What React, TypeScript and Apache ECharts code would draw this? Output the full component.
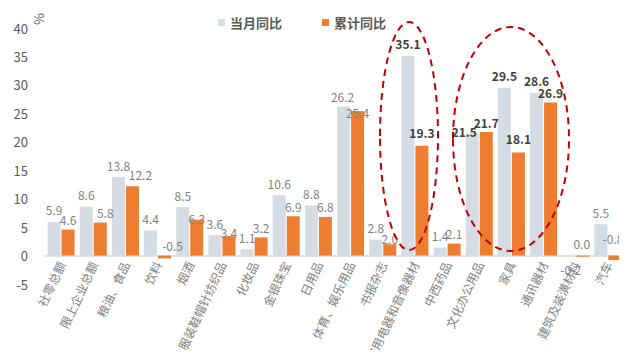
import React, { useEffect, useRef } from "react";
import * as echarts from "echarts";

const categories = [
  "社零总额", "限上企业总额", "粮油、食品", "饮料", "烟酒", "服装鞋帽针纺织品",
  "化妆品", "金银珠宝", "日用品", "体育、娱乐用品", "书报杂志", "家用电器和音像器材",
  "中西药品", "文化办公用品", "家具", "通讯器材", "建筑及装潢材料", "汽车",
];
const monthYoY = [5.9, 8.6, 13.8, 4.4, 8.5, 3.6, 1.1, 10.6, 8.8, 26.2, 2.8, 35.1, 1.4, 21.5, 29.5, 28.6, 0.0, 5.5];
const cumYoY = [4.6, 5.8, 12.2, -0.5, 6.3, 3.4, 3.2, 6.9, 6.8, 25.4, 2.0, 19.3, 2.1, 21.7, 18.1, 26.9, -0.2, -0.8];
const highlighted = [11, 13, 14, 15];
const yTicks = { min: -5, max: 40, interval: 5 };

// label nudges (pixels) to mimic the reference's hand-placed labels
const monthOffsets: Record<number, number[]> = { 9: [-1, 2], 13: [-8, 10], 16: [13, 0] };
const cumOffsets: Record<number, number[]> = {
  1: [5, 0],
  2: [8, -2],
  3: [8, 0],
  4: [0, 9],
  5: [0, 6],
  9: [0, 11],
  10: [0, 4],
  11: [0, -3],
  14: [0, -4],
  16: [-12, 3],
  17: [-2, -7],
};

const FONT = "'Noto Sans CJK SC', 'Noto Sans', sans-serif";

export default function App() {
  const ref = useRef<HTMLDivElement>(null);
  useEffect(() => {
    const chart = echarts.init(ref.current!, undefined, { renderer: "svg" });
    const mkData = (vals: number[], isCum: boolean) =>
      vals.map((v, i) => {
        const hl = highlighted.includes(i);
        const label: any = {
          color: hl ? "#404040" : "#7f7f7f",
          fontWeight: hl ? "bold" : "normal",
        };
        if (isCum && i === 16) label.position = "bottom";
        return { value: v, label };
      });
    const layoutFor = (offs: Record<number, number[]>) => (p: any) => {
      const o = offs[p.dataIndex];
      return o ? { dx: o[0], dy: o[1] } : {};
    };
    chart.setOption({
      animation: false,
      textStyle: { fontFamily: FONT },
      legend: {
        left: 213,
        top: 11,
        itemWidth: 7,
        itemHeight: 7,
        itemGap: 40,
        icon: "rect",
        textStyle: { fontSize: 13, color: "#595959", fontWeight: "bold", fontFamily: FONT },
      },
      grid: { left: 45, right: 3, top: 28, bottom: 74, containLabel: false, outerBoundsMode: "none" },
      xAxis: {
        type: "category",
        data: categories,
        axisLine: { lineStyle: { color: "#D9D9D9", width: 1.5 } },
        axisTick: { show: false },
        axisLabel: { rotate: 65, interval: 0, fontSize: 12, color: "#7f7f7f", margin: -22, fontFamily: FONT },
      },
      yAxis: {
        type: "value",
        min: yTicks.min,
        max: yTicks.max,
        interval: yTicks.interval,
        axisLine: { show: false },
        axisTick: { show: false },
        splitLine: { show: false },
        axisLabel: { fontSize: 13, color: "#595959", margin: 17, fontFamily: FONT },
      },
      series: [
        {
          name: "当月同比",
          type: "bar",
          barWidth: 13,
          barGap: "8%",
          itemStyle: { color: "#D6DCE4" },
          labelLayout: layoutFor(monthOffsets),
          label: { show: true, position: "top", fontSize: 12, distance: 6, formatter: (p: any) => Number(p.value).toFixed(1) },
          data: mkData(monthYoY, false),
        },
        {
          name: "累计同比",
          type: "bar",
          barWidth: 13,
          itemStyle: { color: "#ED7D31" },
          labelLayout: layoutFor(cumOffsets),
          label: { show: true, position: "top", fontSize: 12, distance: 4, formatter: (p: any) => Number(p.value).toFixed(1) },
          data: mkData(cumYoY, true),
        },
      ],
      graphic: [
        {
          type: "text",
          x: 38,
          y: 19,
          rotation: Math.PI / 2,
          style: { text: "%", fontSize: 13, fill: "#595959", align: "center", verticalAlign: "middle", fontFamily: FONT },
        },
        {
          type: "ellipse",
          shape: { cx: 409, cy: 136, rx: 29, ry: 114 },
          style: { fill: "none", stroke: "#C00000", lineWidth: 2, lineDash: [7, 5] },
          z: 100,
        },
        {
          type: "ellipse",
          shape: { cx: 511, cy: 139, rx: 58, ry: 112 },
          style: { fill: "none", stroke: "#C00000", lineWidth: 2, lineDash: [7, 5] },
          z: 100,
        },
      ],
    });
    return () => chart.dispose();
  }, []);
  return <div ref={ref} style={{ width: 627, height: 358, margin: -8 }} />;
}
